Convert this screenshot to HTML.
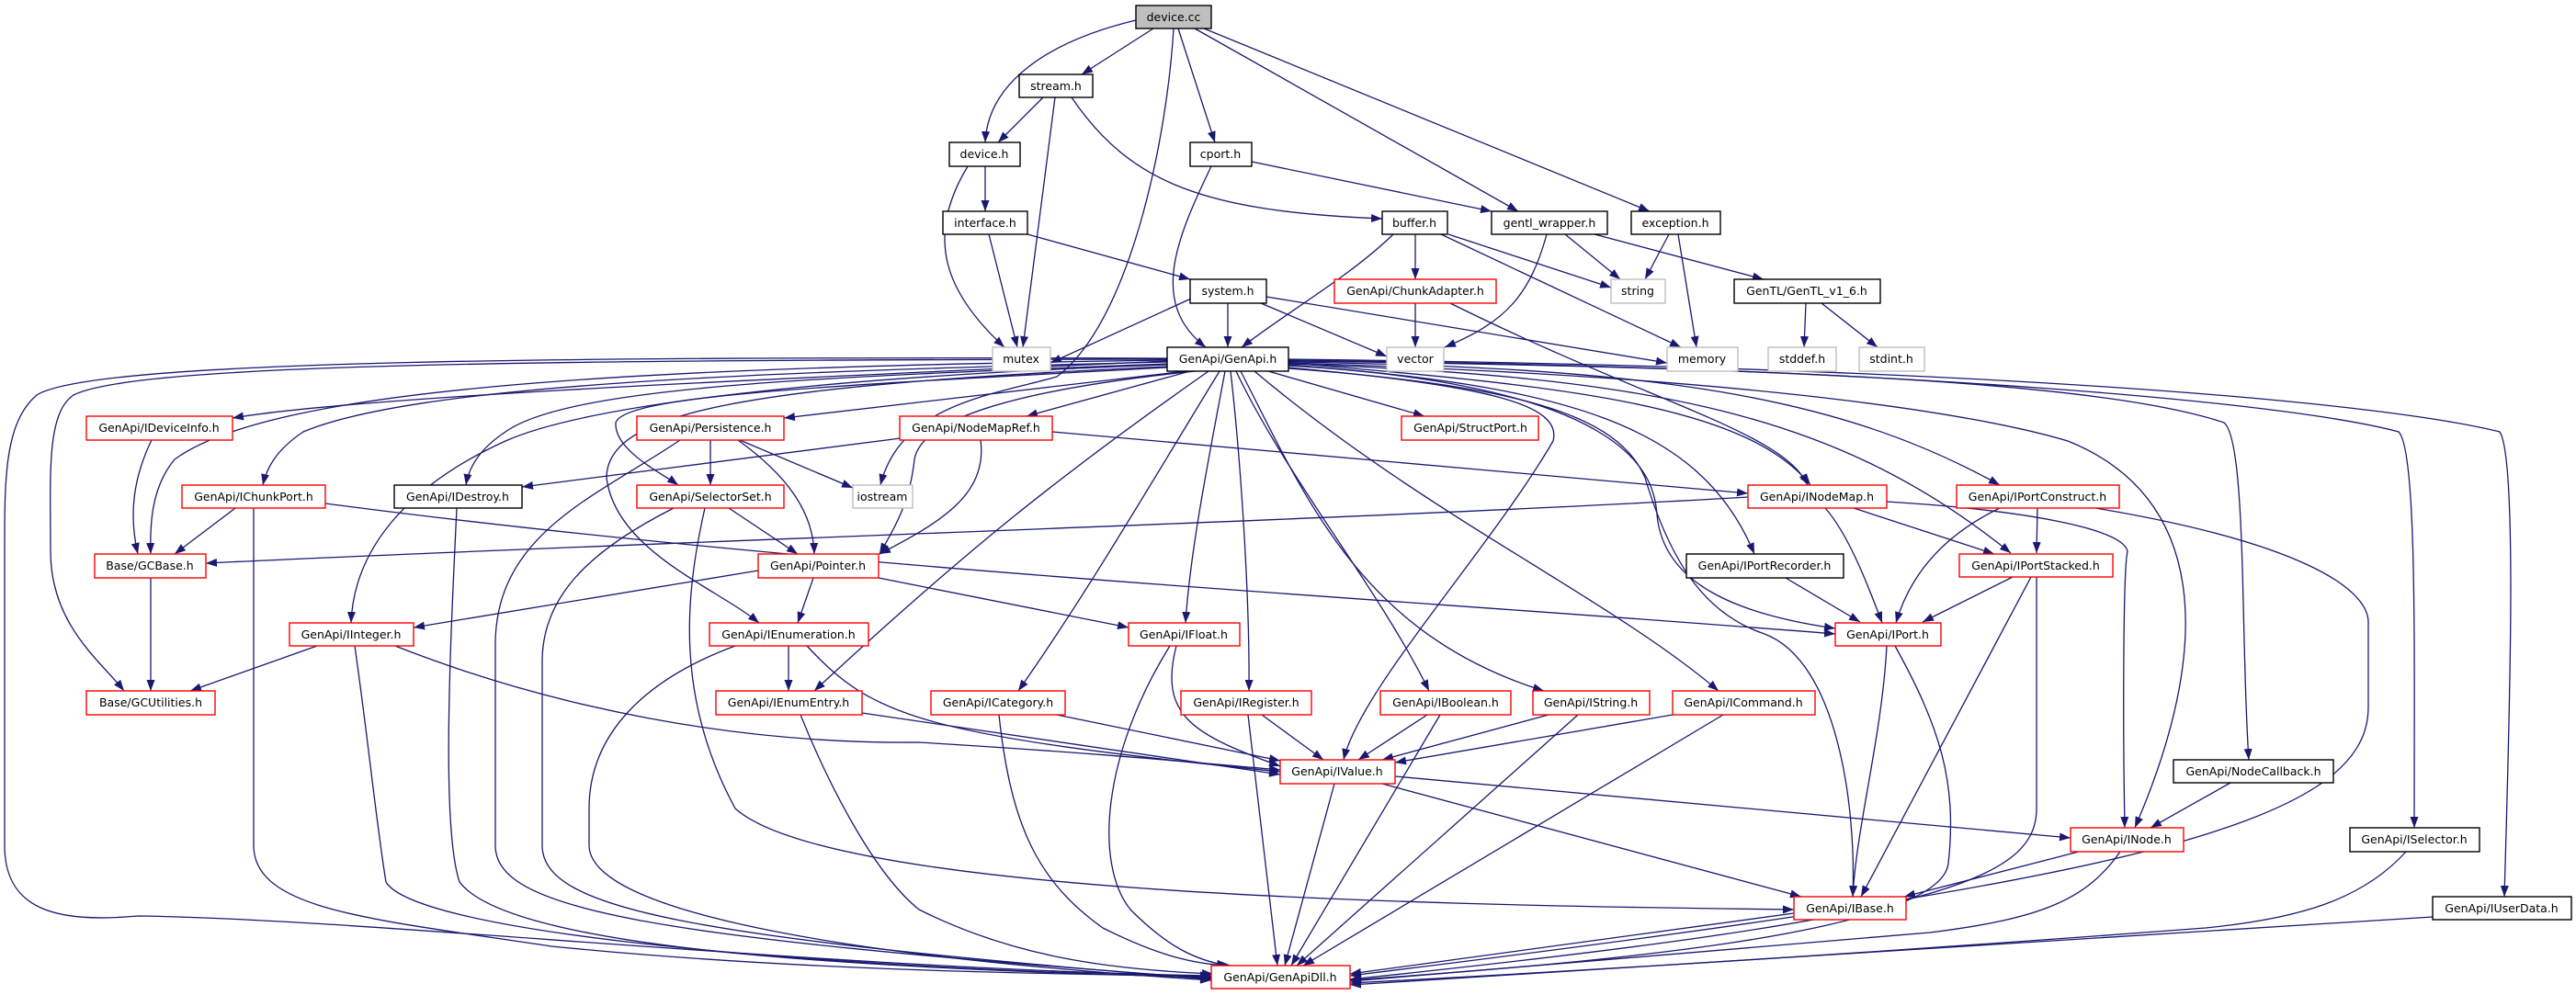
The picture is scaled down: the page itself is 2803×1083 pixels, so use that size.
<!DOCTYPE html>
<html><head><meta charset="utf-8"><style>
html,body{margin:0;padding:0;background:#fff;}
svg{display:block}
text{font-family:"DejaVu Sans","Liberation Sans",sans-serif;font-size:12.5px;fill:#000;text-anchor:middle}
.e{fill:none;stroke:#191970;stroke-width:1.3;marker-end:url(#a)}
.n{fill:#fff;stroke:#000;stroke-width:1.4}
.r{fill:#fff;stroke:#ff0000;stroke-width:1.4}
.g{fill:#fff;stroke:#bfbfbf;stroke-width:1.4}
</style></head><body>
<svg width="2803" height="1083" viewBox="0 0 2803 1083" xmlns="http://www.w3.org/2000/svg">
<defs><marker id="a" markerWidth="12" markerHeight="9" refX="12" refY="4.5" orient="auto" markerUnits="userSpaceOnUse"><path d="M0,0 L12,4.5 L0,9z" fill="#191970"/></marker></defs>
<g>
<path class="e" d="M1236,22 C1140,45 1075,90 1072,155"/>
<path class="e" d="M1255,31 L1177,81"/>
<path class="e" d="M1282,31 L1322,155"/>
<path class="e" d="M1300,31 L1652,230"/>
<path class="e" d="M1310,31 L1795,230"/>
<path class="e" d="M1277,31 C1270,150 1230,350 1150,410 C1080,430 980,440 958,528"/>
<path class="e" d="M1135,106 L1086,155"/>
<path class="e" d="M1148,106 L1113,378"/>
<path class="e" d="M1166,106 C1230,200 1310,230 1504,238"/>
<path class="e" d="M1072,181 L1072,230"/>
<path class="e" d="M1053,181 C1005,260 1030,320 1093,378"/>
<path class="e" d="M1076,255 L1107,378"/>
<path class="e" d="M1118,255 L1295,304"/>
<path class="e" d="M1318,181 C1280,260 1250,330 1312,378"/>
<path class="e" d="M1362,176 L1623,230"/>
<path class="e" d="M1516,255 C1470,300 1400,340 1351,378"/>
<path class="e" d="M1540,255 L1540,304"/>
<path class="e" d="M1576,255 L1753,313"/>
<path class="e" d="M1568,255 L1829,378"/>
<path class="e" d="M1683,255 C1665,320 1640,350 1572,378"/>
<path class="e" d="M1703,255 L1763,304"/>
<path class="e" d="M1735,255 L1919,304"/>
<path class="e" d="M1816,255 L1790,304"/>
<path class="e" d="M1826,255 L1846,378"/>
<path class="e" d="M1965,330 L1963,378"/>
<path class="e" d="M1982,330 L2043,378"/>
<path class="e" d="M1296,325 L1143,395"/>
<path class="e" d="M1336,330 L1336,378"/>
<path class="e" d="M1372,330 L1509,388"/>
<path class="e" d="M1378,323 L1814,395"/>
<path class="e" d="M1540,330 L1540,378"/>
<path class="e" d="M1578,330 C1800,440 1940,470 1967,528"/>
<path class="e" d="M1270,393 C900,410 400,430 253,455"/>
<path class="e" d="M1270,392 C700,400 300,420 190,500 C165,530 163,570 164,603"/>
<path class="e" d="M1270,391 C600,392 150,395 80,430 C50,450 55,520 55,600 C55,680 110,720 135,752"/>
<path class="e" d="M1270,394 C800,405 450,420 330,470 C300,490 290,510 286,528"/>
<path class="e" d="M1270,396 C900,410 620,420 550,470 C520,490 510,510 507,528"/>
<path class="e" d="M1290,404 L853,455"/>
<path class="e" d="M1270,400 C900,420 680,430 670,460 C668,490 720,515 738,528"/>
<path class="e" d="M1295,404 L1117,453"/>
<path class="e" d="M1300,404 C1050,430 1000,470 995,500 C990,550 970,580 957,603"/>
<path class="e" d="M1270,397 C900,410 640,440 550,480 C440,530 385,600 382,678"/>
<path class="e" d="M1270,399 C800,420 660,450 660,520 C670,600 780,640 826,678"/>
<path class="e" d="M1315,404 C1150,520 1050,600 886,752"/>
<path class="e" d="M1327,404 C1250,530 1180,650 1108,752"/>
<path class="e" d="M1333,404 C1315,500 1295,600 1290,678"/>
<path class="e" d="M1339,404 C1350,500 1360,650 1359,752"/>
<path class="e" d="M1345,404 C1400,520 1500,640 1555,752"/>
<path class="e" d="M1350,404 C1420,540 1480,690 1680,752"/>
<path class="e" d="M1365,404 C1550,560 1750,650 1870,752"/>
<path class="e" d="M1402,400 C1620,420 1700,440 1690,480 C1620,600 1480,750 1462,827"/>
<path class="e" d="M1380,404 L1550,453"/>
<path class="e" d="M1402,395 C1700,420 1900,440 1970,528"/>
<path class="e" d="M1402,397 C1700,420 1850,460 1909,603"/>
<path class="e" d="M1402,398 C1780,420 1800,520 1803,560 C1810,640 1900,670 1997,684"/>
<path class="e" d="M1402,396 C1800,410 2000,450 2188,602"/>
<path class="e" d="M1402,394 C1800,400 2000,430 2176,528"/>
<path class="e" d="M1402,395 C1900,410 2150,450 2250,480 C2400,540 2410,700 2323,901"/>
<path class="e" d="M1402,401 C1650,420 1760,450 1790,520 C1820,620 1860,670 1920,690 C2000,720 2020,880 2016,976"/>
<path class="e" d="M1402,393 C2000,400 2300,420 2420,460 C2445,480 2438,700 2447,827"/>
<path class="e" d="M1402,392 C2100,400 2500,440 2610,470 C2630,490 2627,700 2627,901"/>
<path class="e" d="M1402,391 C2200,400 2600,440 2720,470 C2740,500 2730,800 2725,976"/>
<path class="e" d="M1270,390 C600,388 100,392 40,430 C5,460 5,520 5,600 L5,920 C5,990 60,1005 150,997 C400,1000 900,1055 1318,1062"/>
<path class="e" d="M276,553 L276,920 C276,990 400,1000 600,1030 C900,1060 1200,1060 1318,1063"/>
<path class="e" d="M497,553 C490,700 480,900 500,960 C560,1040 1000,1055 1318,1064"/>
<path class="e" d="M740,479 C650,540 540,580 539,700 L539,920 C539,990 700,1020 1318,1065"/>
<path class="e" d="M733,553 C640,600 590,650 590,720 L590,920 C590,990 750,1020 1318,1066"/>
<path class="e" d="M800,703 C700,740 641,800 641,880 L641,920 C641,990 900,1040 1318,1067"/>
<path class="e" d="M767,553 C745,650 735,760 800,880 C900,970 1500,985 1952,990"/>
<path class="e" d="M386,703 C400,800 410,900 420,960 C450,1010 800,1050 1318,1064"/>
<path class="e" d="M430,703 C600,770 800,810 1000,808 C1200,820 1300,830 1393,838"/>
<path class="e" d="M345,703 L207,752"/>
<path class="e" d="M858,703 L858,752"/>
<path class="e" d="M878,703 C950,780 1000,800 1393,840"/>
<path class="e" d="M938,776 L1393,843"/>
<path class="e" d="M871,778 C900,850 950,950 1000,990 C1100,1040 1200,1055 1320,1060"/>
<path class="e" d="M164,629 L164,752"/>
<path class="e" d="M165,479 C145,520 140,560 150,603"/>
<path class="e" d="M256,553 L190,603"/>
<path class="e" d="M354,548 C900,620 1500,650 1997,690"/>
<path class="e" d="M1902,541 C1500,565 700,590 224,613"/>
<path class="e" d="M980,477 L568,530"/>
<path class="e" d="M1067,479 C1075,540 1020,570 957,603"/>
<path class="e" d="M1145,470 L1902,537"/>
<path class="e" d="M773,479 L773,528"/>
<path class="e" d="M805,479 L928,531"/>
<path class="e" d="M803,479 C860,520 885,560 886,603"/>
<path class="e" d="M793,553 L868,603"/>
<path class="e" d="M825,621 L450,683"/>
<path class="e" d="M885,629 L868,678"/>
<path class="e" d="M956,629 L1228,683"/>
<path class="e" d="M1280,703 C1260,780 1300,800 1393,834"/>
<path class="e" d="M1273,703 C1200,820 1190,940 1230,990 C1270,1030 1300,1045 1336,1051"/>
<path class="e" d="M1150,778 L1393,828"/>
<path class="e" d="M1087,778 C1100,900 1130,960 1200,1010 C1260,1040 1300,1050 1340,1051"/>
<path class="e" d="M1373,778 L1440,827"/>
<path class="e" d="M1358,778 L1390,1051"/>
<path class="e" d="M1553,778 L1478,827"/>
<path class="e" d="M1567,778 L1405,1051"/>
<path class="e" d="M1685,778 L1504,827"/>
<path class="e" d="M1717,778 L1411,1051"/>
<path class="e" d="M1820,778 L1518,830"/>
<path class="e" d="M1875,778 L1418,1051"/>
<path class="e" d="M1452,853 L1398,1051"/>
<path class="e" d="M1518,845 L2253,912"/>
<path class="e" d="M1504,853 L1960,976"/>
<path class="e" d="M1952,994 L1469,1060"/>
<path class="e" d="M1986,553 C2010,580 2030,630 2048,678"/>
<path class="e" d="M2017,553 L2170,603"/>
<path class="e" d="M2053,546 C2200,555 2310,575 2315,600 C2310,620 2310,800 2312,901"/>
<path class="e" d="M2176,553 C2120,580 2080,620 2063,678"/>
<path class="e" d="M2217,553 L2216,602"/>
<path class="e" d="M2280,553 C2500,590 2580,640 2577,680 L2577,770 C2577,900 2300,960 1469,1062"/>
<path class="e" d="M1943,629 L2024,677"/>
<path class="e" d="M2190,628 L2092,677"/>
<path class="e" d="M2210,628 L2025,976"/>
<path class="e" d="M2216,628 L2216,880 C2216,960 2100,1000 1469,1066"/>
<path class="e" d="M2053,703 C2048,800 2020,900 2016,976"/>
<path class="e" d="M2062,703 C2110,790 2130,850 2120,940 C2110,1020 1700,1050 1469,1067"/>
<path class="e" d="M2427,852 L2340,901"/>
<path class="e" d="M2262,927 L2072,976"/>
<path class="e" d="M2307,927 C2270,980 2220,1000 2100,1015 C1800,1040 1600,1055 1469,1068"/>
<path class="e" d="M2618,927 C2570,980 2500,1000 2400,1010 C2000,1040 1700,1058 1469,1070"/>
<path class="e" d="M2647,998 L1469,1072"/>
</g>
<g>
<rect x="1236" y="6" width="82" height="25" fill="#bfbfbf" stroke="#000" stroke-width="1.4"/><text x="1277" y="23">device.cc</text>
<rect class="n" x="1109" y="81" width="80" height="25"/><text x="1149" y="98">stream.h</text>
<rect class="n" x="1033" y="155" width="77" height="26"/><text x="1071" y="172">device.h</text>
<rect class="n" x="1295" y="155" width="67" height="26"/><text x="1328" y="172">cport.h</text>
<rect class="n" x="1026" y="230" width="92" height="25"/><text x="1072" y="247">interface.h</text>
<rect class="n" x="1504" y="230" width="71" height="25"/><text x="1539" y="247">buffer.h</text>
<rect class="n" x="1623" y="230" width="126" height="25"/><text x="1686" y="247">gentl_wrapper.h</text>
<rect class="n" x="1775" y="230" width="97" height="25"/><text x="1823" y="247">exception.h</text>
<rect class="n" x="1295" y="304" width="83" height="26"/><text x="1336" y="321">system.h</text>
<rect class="r" x="1452" y="304" width="176" height="26"/><text x="1540" y="321">GenApi/ChunkAdapter.h</text>
<rect class="g" x="1753" y="304" width="59" height="26"/><text x="1782" y="321">string</text>
<rect class="n" x="1887" y="304" width="159" height="26"/><text x="1966" y="321">GenTL/GenTL_v1_6.h</text>
<rect class="g" x="1924" y="378" width="74" height="26"/><text x="1961" y="395">stddef.h</text>
<rect class="g" x="2023" y="378" width="71" height="26"/><text x="2058" y="395">stdint.h</text>
<rect class="g" x="1080" y="378" width="63" height="26"/><text x="1111" y="395">mutex</text>
<rect class="n" x="1270" y="378" width="132" height="26"/><text x="1336" y="395">GenApi/GenApi.h</text>
<rect class="g" x="1509" y="378" width="62" height="26"/><text x="1540" y="395">vector</text>
<rect class="g" x="1814" y="378" width="77" height="26"/><text x="1852" y="395">memory</text>
<rect class="r" x="94" y="453" width="159" height="26"/><text x="173" y="470">GenApi/IDeviceInfo.h</text>
<rect class="r" x="693" y="453" width="160" height="26"/><text x="773" y="470">GenApi/Persistence.h</text>
<rect class="r" x="979" y="453" width="166" height="26"/><text x="1062" y="470">GenApi/NodeMapRef.h</text>
<rect class="r" x="1525" y="453" width="149" height="26"/><text x="1600" y="470">GenApi/StructPort.h</text>
<rect class="r" x="198" y="528" width="156" height="25"/><text x="276" y="545">GenApi/IChunkPort.h</text>
<rect class="n" x="429" y="528" width="139" height="25"/><text x="498" y="545">GenApi/IDestroy.h</text>
<rect class="r" x="693" y="528" width="160" height="25"/><text x="773" y="545">GenApi/SelectorSet.h</text>
<rect class="g" x="928" y="528" width="65" height="25"/><text x="960" y="545">iostream</text>
<rect class="r" x="1902" y="528" width="151" height="25"/><text x="1977" y="545">GenApi/INodeMap.h</text>
<rect class="r" x="2129" y="528" width="177" height="25"/><text x="2217" y="545">GenApi/IPortConstruct.h</text>
<rect class="r" x="103" y="603" width="121" height="26"/><text x="163" y="620">Base/GCBase.h</text>
<rect class="r" x="825" y="603" width="131" height="26"/><text x="890" y="620">GenApi/Pointer.h</text>
<rect class="n" x="1835" y="603" width="171" height="26"/><text x="1920" y="620">GenApi/IPortRecorder.h</text>
<rect class="r" x="2132" y="603" width="167" height="25"/><text x="2215" y="620">GenApi/IPortStacked.h</text>
<rect class="r" x="315" y="678" width="135" height="25"/><text x="382" y="695">GenApi/IInteger.h</text>
<rect class="r" x="772" y="678" width="173" height="25"/><text x="858" y="695">GenApi/IEnumeration.h</text>
<rect class="r" x="1228" y="678" width="121" height="25"/><text x="1288" y="695">GenApi/IFloat.h</text>
<rect class="r" x="1997" y="678" width="115" height="25"/><text x="2054" y="695">GenApi/IPort.h</text>
<rect class="r" x="94" y="752" width="140" height="26"/><text x="164" y="769">Base/GCUtilities.h</text>
<rect class="r" x="779" y="752" width="159" height="26"/><text x="858" y="769">GenApi/IEnumEntry.h</text>
<rect class="r" x="1013" y="752" width="146" height="26"/><text x="1086" y="769">GenApi/ICategory.h</text>
<rect class="r" x="1285" y="752" width="142" height="26"/><text x="1356" y="769">GenApi/IRegister.h</text>
<rect class="r" x="1502" y="752" width="142" height="26"/><text x="1573" y="769">GenApi/IBoolean.h</text>
<rect class="r" x="1668" y="752" width="127" height="26"/><text x="1731" y="769">GenApi/IString.h</text>
<rect class="r" x="1820" y="752" width="155" height="26"/><text x="1897" y="769">GenApi/ICommand.h</text>
<rect class="r" x="1393" y="827" width="125" height="26"/><text x="1455" y="844">GenApi/IValue.h</text>
<rect class="n" x="2365" y="827" width="174" height="25"/><text x="2452" y="844">GenApi/NodeCallback.h</text>
<rect class="r" x="2253" y="901" width="123" height="26"/><text x="2314" y="918">GenApi/INode.h</text>
<rect class="n" x="2557" y="901" width="141" height="26"/><text x="2627" y="918">GenApi/ISelector.h</text>
<rect class="r" x="1952" y="976" width="122" height="25"/><text x="2013" y="993">GenApi/IBase.h</text>
<rect class="n" x="2647" y="976" width="151" height="25"/><text x="2722" y="993">GenApi/IUserData.h</text>
<rect class="r" x="1318" y="1051" width="151" height="25"/><text x="1393" y="1068">GenApi/GenApiDll.h</text>
</g>
</svg>
</body></html>
